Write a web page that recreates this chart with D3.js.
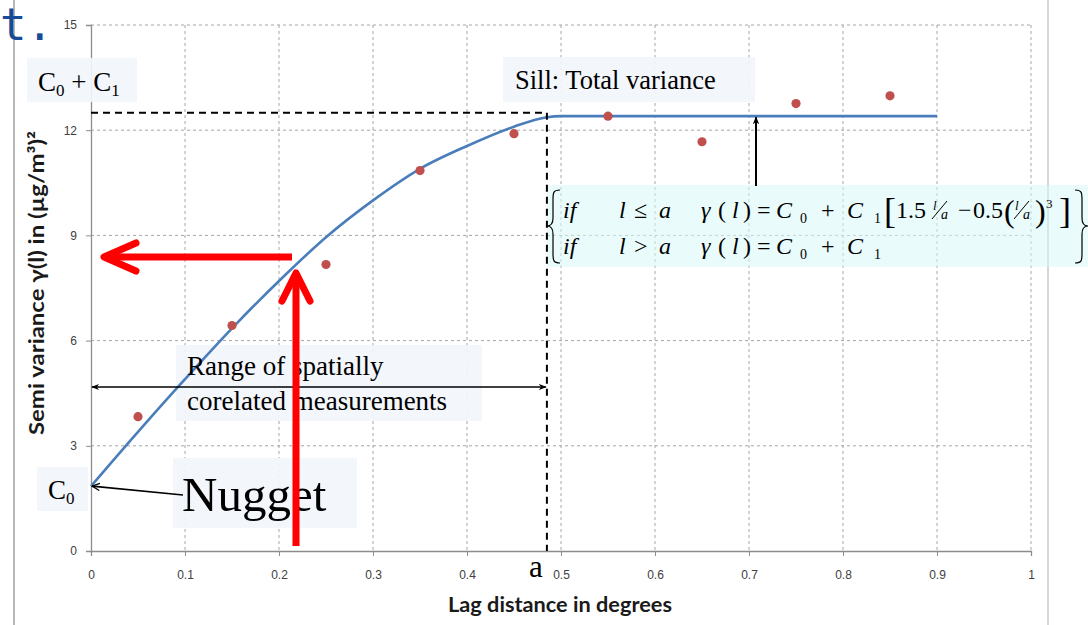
<!DOCTYPE html>
<html>
<head>
<meta charset="utf-8">
<script src="https://cdn.jsdelivr.net/npm/d3@7"></script>
<style>
  html, body { margin: 0; padding: 0; background: #ffffff; }
  svg { display: block; }
</style>
</head>
<body>
<script>
// ---------- data ----------
const lagDistance = [0.05, 0.15, 0.25, 0.35, 0.45, 0.55, 0.65, 0.75, 0.85];
const semiVariance = [3.83, 6.43, 8.17, 10.85, 11.90, 12.40, 11.67, 12.76, 12.98];

const modelLag = [0, 0.05, 0.1, 0.15, 0.2, 0.25, 0.3, 0.35, 0.4, 0.45, 0.485, 0.5, 0.9];
const modelGamma = [1.85, 3.4, 4.9, 6.35, 7.7, 8.95, 10.0, 10.9, 11.55, 12.1, 12.37, 12.4, 12.4];

const xTicks = [0, 0.1, 0.2, 0.3, 0.4, 0.5, 0.6, 0.7, 0.8, 0.9, 1];
const yTicks = [0, 3, 6, 9, 12, 15];

const nugget = 1.85;      // C0
const sillLevel = 12.5;   // dashed guide C0 + C1
const rangeA = 0.485;     // a

// ---------- setup ----------
const W = 1088, H = 625;
const svg = d3.select("body").append("svg").attr("width", W).attr("height", H);
const x = d3.scaleLinear().domain([0, 1]).range([91, 1031]);
const y = d3.scaleLinear().domain([0, 15]).range([551, 25]);

const defs = svg.append("defs");
defs.append("marker").attr("id", "blk").attr("viewBox", "0 0 10 10")
  .attr("refX", 9).attr("refY", 5).attr("markerWidth", 8).attr("markerHeight", 8)
  .attr("markerUnits", "userSpaceOnUse").attr("orient", "auto-start-reverse")
  .append("path").attr("d", "M0,1 L10,5 L0,9 L3,5 Z").attr("fill", "#000");
defs.append("marker").attr("id", "openv").attr("viewBox", "0 0 10 10")
  .attr("refX", 9.5).attr("refY", 5).attr("markerWidth", 9).attr("markerHeight", 9)
  .attr("markerUnits", "userSpaceOnUse").attr("orient", "auto")
  .append("path").attr("d", "M1,1 L9.5,5 L1,9").attr("fill", "none")
  .attr("stroke", "#000").attr("stroke-width", 1.4);

// page decoration (slide)
svg.append("line").attr("x1", 14).attr("x2", 14).attr("y1", 0).attr("y2", H)
  .attr("stroke", "#b8b8b8").attr("stroke-width", 2);
svg.append("line").attr("x1", 1048).attr("x2", 1048).attr("y1", 0).attr("y2", H)
  .attr("stroke", "#c8c8c8").attr("stroke-width", 1.5);
svg.append("text").attr("x", 0).attr("y", 40).text("t.")
  .attr("font-family", "DejaVu Sans Mono").attr("font-size", 44)
  .attr("fill", "#174A97");

// ---------- grid ----------
const grid = svg.append("g");
grid.selectAll(".gx").data(xTicks.slice(1)).enter().append("line")
  .attr("x1", d => x(d)).attr("x2", d => x(d)).attr("y1", y(15)).attr("y2", y(0))
  .attr("stroke", "#a6a6a6").attr("stroke-dasharray", "3,3").attr("stroke-width", 1);
grid.selectAll(".gy").data(yTicks.slice(1)).enter().append("line")
  .attr("x1", x(0)).attr("x2", x(1)).attr("y1", d => y(d)).attr("y2", d => y(d))
  .attr("stroke", "#a6a6a6").attr("stroke-dasharray", "3,3").attr("stroke-width", 1);

// ---------- axes ----------
const xAxis = svg.append("g").attr("transform", `translate(0,${y(0)})`)
  .call(d3.axisBottom(x).tickValues(xTicks).tickSize(5).tickPadding(14)
    .tickFormat(d => d3.format("~g")(d)));
const yAxis = svg.append("g").attr("transform", `translate(${x(0)},0)`)
  .call(d3.axisLeft(y).tickValues(yTicks).tickSize(5).tickPadding(9));
[xAxis, yAxis].forEach(a => {
  a.select(".domain").attr("stroke", "#8c8c8c").attr("stroke-width", 1.3);
  a.selectAll(".tick line").attr("stroke", "#8c8c8c");
  a.selectAll(".tick text").attr("font-family", "Liberation Sans, Arial, sans-serif")
    .attr("font-size", 12).attr("fill", "#404040");
});

svg.append("text").attr("x", 560).attr("y", 612).attr("text-anchor", "middle")
  .attr("font-family", "Lato, sans-serif").attr("font-weight", "bold")
  .attr("font-size", 20).attr("fill", "#1a1a1a")
  .attr("textLength", 224).attr("lengthAdjust", "spacingAndGlyphs")
  .text("Lag distance in degrees");
svg.append("text").attr("transform", "translate(44,283) rotate(-90)")
  .attr("text-anchor", "middle")
  .attr("font-family", "Lato, sans-serif").attr("font-weight", "bold")
  .attr("font-size", 20).attr("fill", "#1a1a1a")
  .attr("textLength", 304).attr("lengthAdjust", "spacingAndGlyphs")
  .text("Semi variance γ(l) in (µg/m³)²");

// ---------- annotation boxes ----------
const boxes = [
  { x: 27, y: 58, w: 110, h: 44 },
  { x: 503, y: 57, w: 252, h: 45 },
  { x: 176, y: 345, w: 306, h: 76 },
  { x: 173, y: 458, w: 184, h: 70 },
  { x: 37, y: 467, w: 51, h: 44 }
];
svg.selectAll(".box").data(boxes).enter().append("rect")
  .attr("x", d => d.x).attr("y", d => d.y).attr("width", d => d.w).attr("height", d => d.h)
  .attr("fill", "#f2f5fa").attr("fill-opacity", 0.92);
svg.append("rect").attr("x", 547).attr("y", 185).attr("width", 541).attr("height", 82)
  .attr("fill", "#d9f7f9").attr("fill-opacity", 0.55);

// ---------- model curve ----------
const model = modelLag.map((d, i) => [d, modelGamma[i]]);
svg.append("path").datum(model)
  .attr("d", d3.line().x(d => x(d[0])).y(d => y(d[1])).curve(d3.curveMonotoneX))
  .attr("fill", "none").attr("stroke", "#4a7ebb").attr("stroke-width", 2.6);

// ---------- points ----------
svg.selectAll(".pt").data(lagDistance).enter().append("circle")
  .attr("cx", d => x(d)).attr("cy", (d, i) => y(semiVariance[i])).attr("r", 4.6)
  .attr("fill", "#c0504d");

// ---------- dashed guides ----------
svg.append("path")
  .attr("d", `M${x(0)},${y(sillLevel)} H${x(rangeA)} V${y(0)}`)
  .attr("fill", "none").attr("stroke", "#000").attr("stroke-width", 2)
  .attr("stroke-dasharray", "7,5");

// ---------- texts ----------
const serif = "Liberation Serif, Times New Roman, serif";
function label(xp, yp, str, size, extra) {
  const t = svg.append("text").attr("x", xp).attr("y", yp).attr("font-family", serif)
    .attr("font-size", size).attr("fill", "#000");
  if (extra) extra(t); else t.text(str);
  return t;
}
label(38, 91, null, 27, t => {
  t.append("tspan").text("C");
  t.append("tspan").attr("font-size", 17).attr("dy", 5).text("0");
  t.append("tspan").attr("dy", -5).text(" + C");
  t.append("tspan").attr("font-size", 17).attr("dy", 5).text("1");
});
label(48, 499, null, 27, t => {
  t.append("tspan").text("C");
  t.append("tspan").attr("font-size", 17).attr("dy", 5).text("0");
});
label(515, 89, "Sill: Total variance", 26.5);
label(187, 375, "Range of spatially", 27);
label(187, 410, "corelated measurements", 27);
label(182, 511, "Nugget", 49);
label(529, 577, "a", 31);

// ---------- equation ----------
const eqFont = 24, r1 = 218, r2 = 254;
function eq(xp, yp, str, opt = {}) {
  return svg.append("text").attr("x", xp).attr("y", yp).attr("font-family", serif)
    .attr("font-size", opt.size || eqFont).attr("font-style", opt.italic ? "italic" : "normal")
    .attr("fill", "#000").text(str);
}
function frac(xp, yp) {
  eq(xp, yp - 8, "l", { size: 13, italic: true });
  svg.append("line").attr("x1", xp - 1).attr("y1", yp + 1).attr("x2", xp + 14).attr("y2", yp - 17)
    .attr("stroke", "#000").attr("stroke-width", 1);
  eq(xp + 8, yp + 1, "a", { size: 14, italic: true });
}
[[r1, "≤"], [r2, ">"]].forEach(([ry, op]) => {
  eq(563, ry, "if", { italic: true });
  eq(619, ry, "l", { italic: true });
  eq(634, ry, op);
  eq(659, ry, "a", { italic: true });
  eq(701, ry, "γ", { italic: true });
  eq(718, ry, "(");
  eq(732, ry, "l", { italic: true });
  eq(743, ry, ")");
  eq(757, ry, "=");
  eq(776, ry, "C", { italic: true });
  eq(800, ry + 5, "0", { size: 14 });
  eq(821, ry, "+");
  eq(847, ry, "C", { italic: true });
  eq(874, ry + 5, "1", { size: 14 });
});
eq(884, r1 + 5, "[", { size: 36 });
eq(896, r1, "1.5");
frac(933, r1);
eq(958, r1, "−");
eq(973, r1, "0.5");
eq(1004, r1 + 4, "(", { size: 32 });
frac(1015, r1);
eq(1035, r1 + 4, ")", { size: 32 });
eq(1046, r1 - 10, "3", { size: 13 });
eq(1059, r1 + 5, "]", { size: 36 });
// braces
svg.append("path")
  .attr("d", "M560,190 C553,190 553,193 553,200 L553,218 C553,224 551,226 547,226 C551,226 553,228 553,234 L553,253 C553,260 553,263 560,263")
  .attr("fill", "none").attr("stroke", "#000").attr("stroke-width", 1.2);
svg.append("path")
  .attr("d", "M1075,190 C1082,190 1082,193 1082,200 L1082,218 C1082,224 1084,226 1088,226 C1084,226 1082,228 1082,234 L1082,253 C1082,260 1082,263 1075,263")
  .attr("fill", "none").attr("stroke", "#000").attr("stroke-width", 1.2);

// ---------- black arrows ----------
svg.append("line").attr("x1", 756).attr("y1", 186).attr("x2", 756).attr("y2", y(12.4) + 1)
  .attr("stroke", "#000").attr("stroke-width", 2).attr("marker-end", "url(#blk)");
svg.append("line").attr("x1", x(0) + 1).attr("y1", 387).attr("x2", x(rangeA) - 1).attr("y2", 387)
  .attr("stroke", "#000").attr("stroke-width", 1.6)
  .attr("marker-start", "url(#blk)").attr("marker-end", "url(#blk)");
svg.append("line").attr("x1", 183).attr("y1", 495).attr("x2", x(0) + 1).attr("y2", y(nugget))
  .attr("stroke", "#000").attr("stroke-width", 1.6).attr("marker-end", "url(#openv)");

// ---------- red arrows ----------
const red = svg.append("g").attr("stroke", "#ff0000").attr("stroke-width", 7)
  .attr("fill", "none").attr("stroke-linecap", "round").attr("stroke-linejoin", "round");
red.append("line").attr("x1", 296).attr("y1", 546).attr("x2", 296).attr("y2", 276).attr("stroke-linecap", "butt");
red.append("path").attr("d", "M282,301 L296,273 L310,301");
red.append("line").attr("x1", 292).attr("y1", 257).attr("x2", 108).attr("y2", 257).attr("stroke-linecap", "butt");
red.append("path").attr("d", "M136,243 L104,257 L136,271");
</script>
</body>
</html>
